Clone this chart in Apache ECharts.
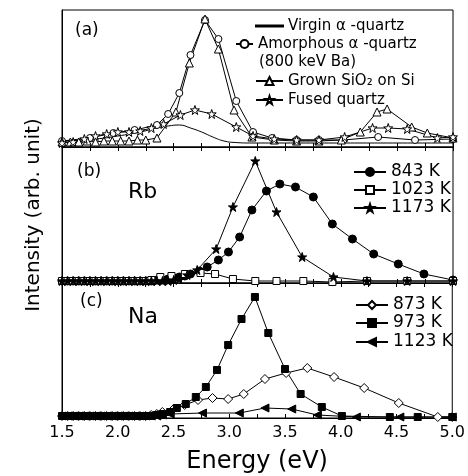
<!DOCTYPE html>
<html>
<head>
<meta charset="utf-8">
<script src="https://cdn.jsdelivr.net/npm/echarts@6/dist/echarts.min.js"></script>
<style>html,body{margin:0;padding:0;background:#fff}#c{width:468px;height:476px}</style>
</head>
<body>
<div id="c"></div>
<script>
// ---- Data (energy in eV, intensity in arbitrary units) ----
// Panel (a)
const virginA = [[1.5,6],[1.8,8],[2.0,11],[2.2,15],[2.35,19],[2.45,21],[2.55,22],[2.65,19],[2.75,15],[2.85,10],[2.95,6],[3.05,4.5],[3.2,4],[3.5,4],[4.0,4],[4.5,4],[5.0,4]];
const amorphousA = [[1.5,6],[1.75,9],[1.96,14],[2.15,17],[2.35,22],[2.45,33],[2.55,54],[2.65,92],[2.78,127],[2.90,108],[3.06,46],[3.21,15],[3.38,9],[3.6,7],[3.8,7],[4.02,7],[4.33,10],[4.66,7],[5.0,8]];
const grownA = [[1.5,5],[1.575,5],[1.65,5],[1.725,6],[1.8,5],[1.875,6],[1.95,6],[2.025,6],[2.1,6],[2.175,7],[2.25,7],[2.35,9],[2.52,35],[2.64,84],[2.78,128],[2.90,98],[3.04,37],[3.20,10],[3.4,7],[3.6,6],[3.8,6],[4.0,7],[4.17,15],[4.32,35],[4.41,38],[4.63,20],[4.77,14],[5.0,9]];
const fusedA = [[1.5,4],[1.6,5],[1.7,8],[1.8,11],[1.9,13],[2.0,15],[2.1,15],[2.2,16],[2.3,19],[2.41,23],[2.56,32],[2.69,37],[2.84,33],[3.06,20],[3.21,11],[3.4,8],[3.6,7],[3.8,7],[4.03,10],[4.28,19],[4.42,19],[4.59,18],[4.86,9],[5.0,10]];
// Panel (b) Rb
const k843B = [[1.5,2],[1.55,2],[1.6,2],[1.65,2],[1.7,2],[1.75,2],[1.8,2],[1.85,2],[1.9,2],[1.95,2],[2.0,2],[2.05,2],[2.1,2],[2.15,2],[2.2,2],[2.25,2],[2.3,2],[2.35,3],[2.4,3],[2.45,4],[2.5,5],[2.55,6],[2.6,7],[2.65,9],[2.73,12],[2.80,16],[2.90,23],[2.99,31],[3.09,46],[3.20,73],[3.33,92],[3.45,99],[3.59,96],[3.75,86],[3.92,59],[4.10,44],[4.29,29],[4.51,19],[4.74,9],[5.0,3]];
const k1023B = [[1.5,2],[1.55,2],[1.6,2],[1.65,2],[1.7,2],[1.75,2],[1.8,2],[1.85,2],[1.9,2],[1.95,2],[2.0,2],[2.05,2],[2.1,2],[2.15,2],[2.2,2],[2.25,2],[2.3,3],[2.38,6],[2.48,7],[2.6,9],[2.74,10],[2.87,9],[3.03,4],[3.23,2],[3.42,2],[3.66,2],[3.92,1],[4.23,2],[4.59,2],[5.0,2]];
const k1173B = [[1.5,2],[1.55,2],[1.6,2],[1.65,2],[1.7,2],[1.75,2],[1.8,2],[1.85,2],[1.9,2],[1.95,2],[2.0,2],[2.05,2],[2.1,2],[2.15,2],[2.2,2],[2.25,2],[2.3,2],[2.35,2],[2.4,2],[2.45,2],[2.5,3],[2.55,4],[2.62,8],[2.71,13],[2.88,34],[3.03,76],[3.23,122],[3.42,71],[3.65,26],[3.93,6],[4.23,2],[4.59,2],[5.0,2]];
// Panel (c) Na
const k873C = [[1.5,2],[1.55,2],[1.6,2],[1.65,2],[1.7,2],[1.75,2],[1.8,2],[1.85,2],[1.9,2],[1.95,2],[2.0,2],[2.05,2],[2.1,2],[2.15,2],[2.2,2],[2.25,2],[2.3,3],[2.35,4],[2.40,6],[2.5,9],[2.6,13],[2.72,18],[2.85,20],[2.99,19],[3.13,24],[3.32,39],[3.51,45],[3.70,50],[3.94,41],[4.21,30],[4.52,15],[4.87,1],[5.0,1]];
const k973C = [[1.5,2],[1.55,2],[1.6,2],[1.65,2],[1.7,2],[1.75,2],[1.8,2],[1.85,2],[1.9,2],[1.95,2],[2.0,2],[2.05,2],[2.1,2],[2.15,2],[2.2,2],[2.25,2],[2.3,2],[2.35,3],[2.4,4],[2.47,6],[2.53,10],[2.61,14],[2.70,21],[2.79,31],[2.89,48],[2.99,73],[3.11,99],[3.23,121],[3.35,85],[3.50,49],[3.64,24],[3.83,11],[4.01,2],[4.44,1],[4.69,1],[5.0,1]];
const k1123C = [[1.5,2],[1.55,2],[1.6,2],[1.65,2],[1.7,2],[1.75,2],[1.8,2],[1.85,2],[1.9,2],[1.95,2],[2.0,2],[2.05,2],[2.1,2],[2.15,2],[2.2,2],[2.25,2],[2.3,2],[2.35,2],[2.4,3],[2.47,4],[2.76,5],[3.09,5],[3.32,10],[3.56,9],[3.79,3],[4.14,1],[4.53,1],[5.0,1]];

const energyMin = 1.5, energyMax = 5.0, tickStep = 0.25;
const panelMax = [137, 136, 135];
const panelLabels = ['(a)', '(b)', '(c)'];
const elementLabels = ['', 'Rb', 'Na'];

const FONT = '"DejaVu Sans", sans-serif';
const STAR = 'path://M12,0 L14.9,8.6 L24,8.6 L16.6,14 L19.4,22.8 L12,17.4 L4.6,22.8 L7.4,14 L0,8.6 L9.1,8.6 Z';

const gridTops = [10, 147, 283];
const grids = panelMax.map((h, i) => ({left: 62, right: 15, top: gridTops[i], height: h, show: true, borderColor: '#000', borderWidth: 1, backgroundColor: 'transparent'}));

const xAxes = [];
panelMax.forEach((h, i) => {
  xAxes.push({
    gridIndex: i, type: 'value', min: energyMin, max: energyMax, interval: tickStep, position: 'bottom',
    axisLine: {show: true, lineStyle: {color: '#000', width: 1}},
    axisTick: {show: true, inside: true, length: 4, lineStyle: {color: '#000'}},
    splitLine: {show: false},
    axisLabel: {show: i === 2, color: '#000', fontSize: 16, fontFamily: FONT, margin: 7,
      formatter: v => (Math.abs(v * 2 - Math.round(v * 2)) < 1e-6 ? v.toFixed(1) : '')},
    name: i === 2 ? 'Energy (eV)' : '', nameLocation: 'middle', nameGap: 32,
    nameTextStyle: {fontSize: 24, fontFamily: FONT, color: '#000'}
  });
});
panelMax.forEach((h, i) => {
  if (i === 0) return;
  xAxes.push({
    gridIndex: i, type: 'value', min: energyMin, max: energyMax, interval: tickStep, position: 'top',
    axisLine: {show: true, lineStyle: {color: '#000', width: 1}},
    axisTick: {show: true, inside: true, length: 4, lineStyle: {color: '#000'}},
    splitLine: {show: false}, axisLabel: {show: false}
  });
});
const yAxes = panelMax.map((h, i) => ({
  gridIndex: i, type: 'value', min: 0, max: h,
  axisLine: {show: true, lineStyle: {color: '#000'}}, axisTick: {show: false}, axisLabel: {show: false}, splitLine: {show: false},
  name: i === 1 ? 'Intensity (arb. unit)' : '', nameLocation: 'middle', nameGap: 18,
  nameTextStyle: {fontSize: 20, fontFamily: FONT, color: '#000'}
}));

function ser(name, data, gi, symbol, size, filled, extra) {
  return Object.assign({
    name, type: 'line', data, xAxisIndex: gi, yAxisIndex: gi,
    symbol, symbolSize: size, showSymbol: symbol !== 'none',
    lineStyle: {color: '#000', width: 1},
    itemStyle: filled ? {color: '#000', borderColor: '#000', borderWidth: 1} : {color: '#fff', borderColor: '#000', borderWidth: 1},
    emphasis: {disabled: true}, animation: false, z: 3
  }, extra || {});
}

const series = [
  ser('Virgin α -quartz', virginA, 0, 'none', 0, true, {smooth: true}),
  ser('Amorphous α -quartz', amorphousA, 0, 'circle', 7, false),
  ser('Grown SiO₂ on Si', grownA, 0, 'triangle', 8, false),
  ser('Fused quartz', fusedA, 0, STAR, 9, false),
  ser('843 K', k843B, 1, 'circle', 8, true),
  ser('1023 K', k1023B, 1, 'rect', 7, false),
  ser('1173 K', k1173B, 1, STAR, 9, true),
  ser('873 K', k873C, 2, 'diamond', 9, false),
  ser('973 K', k973C, 2, 'rect', 7, true),
  ser('1123 K', k1123C, 2, 'triangle', 8, true, {symbolRotate: 90})
];

function lg(name, left, cy, w, fs, ih, icon) {
  return {data: [icon ? {name, icon} : name], left, top: cy - fs / 2, itemWidth: w, itemHeight: ih || 10, padding: 0, selectedMode: false,
    textStyle: {fontSize: fs, fontFamily: FONT, color: '#000'}};
}
const legends = [
  lg('Virgin α -quartz', 255, 26, 27, 15, 1, 'rect'),
  lg('Amorphous α -quartz', 235, 44, 17, 15),
  lg('Grown SiO₂ on Si', 255, 81, 27, 15),
  lg('Fused quartz', 255, 100, 27, 15),
  lg('843 K', 353, 172, 32, 17),
  lg('1023 K', 353, 190, 32, 17),
  lg('1173 K', 353, 208, 32, 17),
  lg('873 K', 355, 305, 32, 17),
  lg('973 K', 355, 323, 32, 17),
  lg('1123 K', 355, 342, 32, 17)
];

const graphics = [
  {type: 'text', x: 75, y: 31, style: {text: panelLabels[0], font: '17px ' + FONT, fill: '#000', verticalAlign: 'middle'}},
  {type: 'text', x: 77, y: 172, style: {text: panelLabels[1], font: '17px ' + FONT, fill: '#000', verticalAlign: 'middle'}},
  {type: 'text', x: 80, y: 302, style: {text: panelLabels[2], font: '17px ' + FONT, fill: '#000', verticalAlign: 'middle'}},
  {type: 'text', x: 128, y: 192, style: {text: elementLabels[1], font: '22px ' + FONT, fill: '#000', verticalAlign: 'middle'}},
  {type: 'text', x: 128, y: 317, style: {text: elementLabels[2], font: '22px ' + FONT, fill: '#000', verticalAlign: 'middle'}},
  {type: 'text', x: 259, y: 62, style: {text: '(800 keV Ba)', font: '15px ' + FONT, fill: '#000', verticalAlign: 'middle'}}
];

const chart = echarts.init(document.getElementById('c'), null, {renderer: 'canvas'});
chart.setOption({
  animation: false, backgroundColor: '#fff',
  grid: grids, xAxis: xAxes, yAxis: yAxes, series, legend: legends, graphic: graphics
});
</script>
</body>
</html>
